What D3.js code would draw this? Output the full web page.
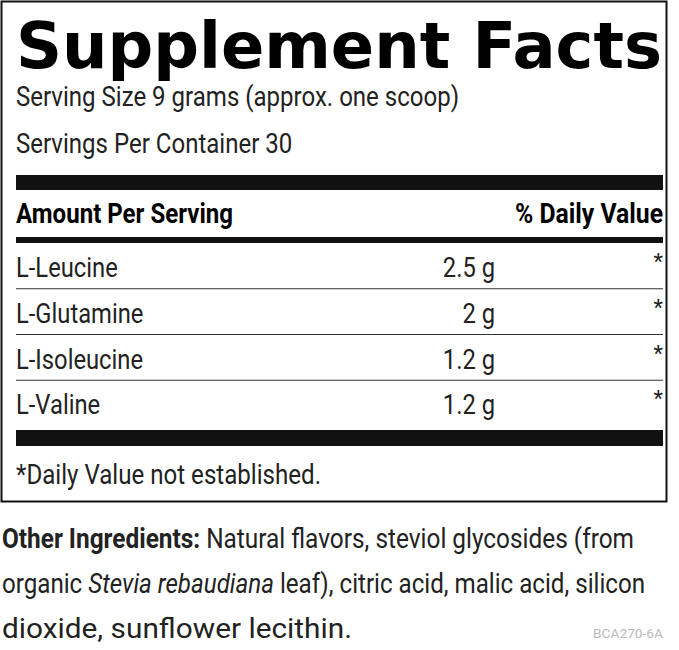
<!DOCTYPE html>
<html><head><meta charset="utf-8">
<script src="https://cdn.jsdelivr.net/npm/d3@7"></script>
<style>body{margin:0;background:#fff}</style>
</head><body>
<script>
// label data
const title = "Supplement Facts";
const servingLines = ["Serving Size 9 grams (approx. one scoop)", "Servings Per Container 30"];
const ingredients = ["L-Leucine", "L-Glutamine", "L-Isoleucine", "L-Valine"];
const amounts = ["2.5 g", "2 g", "1.2 g", "1.2 g"];
const dailyValues = ["*", "*", "*", "*"];
const footnote = "*Daily Value not established.";
const code = "BCA270-6A";

const W = 679, H = 650, font = "'Liberation Sans Narrow', 'Roboto', sans-serif";
const svg = d3.select("body").append("svg").attr("width", W).attr("height", H)
    .style("font-family", font);

// narrow the text, no condensed font here
function squeeze(sel, f) {
    sel.each(function () {
        var len = this.getComputedTextLength();
        d3.select(this).attr("textLength", len * f).attr("lengthAdjust", "spacingAndGlyphs");
    });
}

// outer box
svg.append("rect").attr("x", 1.5).attr("y", 1.5).attr("width", 665).attr("height", 500)
    .attr("fill", "none").attr("stroke", "#111").attr("stroke-width", 2);

svg.append("text").attr("x", 16).attr("y", 68).text(title)
    .attr("font-family", "'DejaVu Sans', sans-serif").attr("font-weight", "bold")
    .attr("font-size", 64).attr("textLength", 646).attr("lengthAdjust", "spacingAndGlyphs");

svg.selectAll("text.serv").data(servingLines).join("text").attr("class", "serv")
    .attr("x", 16).attr("y", (d, i) => 106 + i * 47).attr("font-size", 27).attr("fill", "#222").text(d => d)
    .call(squeeze, 0.89);

// bars
svg.append("rect").attr("x", 16).attr("y", 175).attr("width", 647).attr("height", 15).attr("fill", "#111");
svg.append("rect").attr("x", 16).attr("y", 237).attr("width", 647).attr("height", 6).attr("fill", "#111");
svg.append("rect").attr("x", 16).attr("y", 430).attr("width", 647).attr("height", 16).attr("fill", "#111");

svg.append("text").attr("x", 16).attr("y", 223).attr("font-size", 27).attr("font-weight", "bold")
    .text("Amount Per Serving").attr("textLength", 217).attr("lengthAdjust", "spacingAndGlyphs");
svg.append("text").attr("x", 663).attr("y", 223).attr("font-size", 27).attr("font-weight", "bold")
    .attr("text-anchor", "end").text("% Daily Value").attr("textLength", 148).attr("lengthAdjust", "spacingAndGlyphs");

const y = d3.scaleBand().domain(ingredients).range([243, 426]);
const rows = svg.selectAll("g.row").data(ingredients).join("g").attr("class", "row")
    .attr("transform", d => "translate(0," + y(d) + ")");
rows.append("text").attr("x", 16).attr("y", 34).attr("font-size", 27).attr("fill", "#222").text(d => d)
    .call(squeeze, 0.88);
rows.append("text").attr("x", 495).attr("y", 34).attr("font-size", 27).attr("fill", "#222")
    .attr("text-anchor", "end").text((d, i) => amounts[i]).call(squeeze, 0.88);
rows.append("text").attr("x", 663).attr("y", 26).attr("font-size", 22).attr("fill", "#222")
    .attr("text-anchor", "end").text((d, i) => dailyValues[i]);
rows.filter((d, i) => i < ingredients.length - 1).append("line")
    .attr("x1", 16).attr("x2", 663).attr("y1", y.bandwidth()).attr("y2", y.bandwidth())
    .attr("stroke", "#333").attr("stroke-width", 1);

svg.append("text").attr("x", 16).attr("y", 484).attr("font-size", 27).attr("fill", "#222").text(footnote)
    .attr("textLength", 305).attr("lengthAdjust", "spacingAndGlyphs");

// other ingredients
const other = svg.append("g").attr("font-size", 28).attr("fill", "#222");
const l1 = other.append("text").attr("x", 2).attr("y", 548)
    .attr("textLength", 632).attr("lengthAdjust", "spacingAndGlyphs");
l1.append("tspan").attr("font-weight", "bold").text("Other Ingredients:");
l1.append("tspan").text(" Natural flavors,  steviol glycosides (from");
const l2 = other.append("text").attr("x", 2).attr("y", 593)
    .attr("textLength", 643).attr("lengthAdjust", "spacingAndGlyphs");
l2.append("tspan").text("organic ");
l2.append("tspan").attr("font-style", "italic").text("Stevia rebaudiana");
l2.append("tspan").text(" leaf), citric acid, malic acid, silicon");
other.append("text").attr("x", 2).attr("y", 638).text("dioxide, sunflower lecithin.")
    .attr("textLength", 350).attr("lengthAdjust", "spacingAndGlyphs");

svg.append("text").attr("x", 663).attr("y", 638).attr("text-anchor", "end")
    .attr("font-size", 13).attr("fill", "#bbb").text(code)
    .attr("textLength", 70).attr("lengthAdjust", "spacingAndGlyphs");
</script>
</body></html>
